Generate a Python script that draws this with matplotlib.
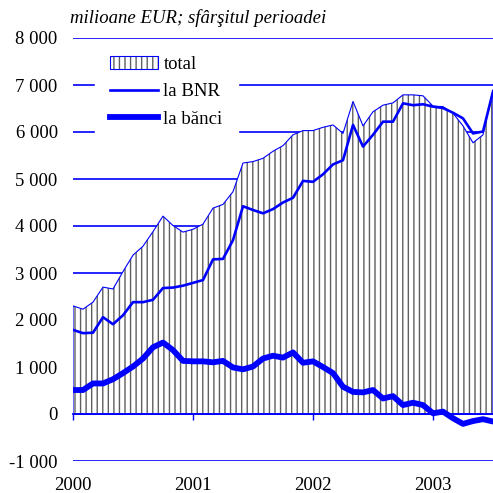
import numpy as np
import matplotlib
matplotlib.use('Agg')
import matplotlib.pyplot as plt
import matplotlib.transforms as mtransforms
from matplotlib.patches import Patch
from matplotlib.lines import Line2D
from matplotlib.legend_handler import HandlerTuple

plt.rcParams['font.family'] = ['Liberation Serif', 'DejaVu Serif']
plt.rcParams['hatch.linewidth'] = 1.0

# monthly, Jan 2000 .. Jul 2003 (mil. EUR, end of period)
total = [2300, 2230, 2380, 2700, 2660, 3030, 3380, 3570, 3880, 4210, 4010, 3870,
         3930, 4040, 4380, 4460, 4730, 5340, 5370, 5440, 5590, 5710, 5940, 6030,
         6030, 6100, 6150, 5970, 6650, 6130, 6430, 6570, 6620, 6790, 6790, 6770,
         6550, 6540, 6400, 6130, 5770, 5940, 6900]
bnr = [1790, 1720, 1730, 2060, 1910, 2100, 2380, 2380, 2430, 2680, 2690, 2730,
       2790, 2850, 3290, 3300, 3700, 4420, 4340, 4270, 4360, 4500, 4600, 4960,
       4940, 5100, 5310, 5400, 6150, 5690, 5940, 6220, 6220, 6610, 6570, 6590,
       6540, 6510, 6410, 6290, 5970, 6010, 6860]
banci = [510, 510, 650, 650, 740, 870, 1010, 1180, 1420, 1520, 1360, 1130,
         1120, 1120, 1100, 1130, 990, 950, 1010, 1180, 1240, 1200, 1310, 1090,
         1120, 1000, 870, 580, 470, 460, 510, 330, 380, 190, 240, 190,
         15, 50, -90, -210, -150, -110, -160]
years = ['2000', '2001', '2002', '2003']
year_pos = [0, 12, 24, 36]
yticks = [-1000, 0, 1000, 2000, 3000, 4000, 5000, 6000, 7000, 8000]
ytick_labels = ['-1 000', '0', '1 000', '2 000', '3 000', '4 000',
                '5 000', '6 000', '7 000', '8 000']

blue = '#0000ff'
hatch_gray = '#5f5f5f'
fs = 13.5

x = np.arange(len(total))

fig = plt.figure(figsize=(4.93, 4.93), dpi=100)
ax = fig.add_axes([73 / 493, 1 - 461 / 493, 1 - 73 / 493, 423 / 493])

ax.fill_between(x, 0, total, facecolor='white', edgecolor=hatch_gray,
                hatch='|||', linewidth=0, zorder=1)
ax.fill_between(x, 0, total, facecolor='none', edgecolor=blue,
                linewidth=0.8, zorder=1.5)
ax.plot(x, bnr, color=blue, lw=1.9, zorder=3)
ax.plot(x, banci, color=blue, lw=4.2, zorder=3, solid_capstyle='round')

ax.set_xlim(0, len(total) - 1)
ax.set_ylim(-1000, 8000)
ax.set_yticks(yticks)
ax.set_yticklabels(ytick_labels, fontsize=fs)
ax.tick_params(axis='y', length=0, pad=11)
ax.yaxis.grid(True, color=blue, lw=1.2)
ax.set_axisbelow(True)

for s in ['top', 'right', 'left']:
    ax.spines[s].set_visible(False)
ax.spines['bottom'].set_position(('data', 0))
ax.spines['bottom'].set_color(blue)
ax.spines['bottom'].set_linewidth(1.3)
ax.spines['bottom'].set_zorder(2.5)
ax.set_xticks(year_pos)
ax.set_xticklabels([])
ax.tick_params(axis='x', direction='out', length=4.5, width=1, color=blue)

trans = mtransforms.blended_transform_factory(ax.transData, ax.transAxes)
for p, lab in zip(year_pos, years):
    ax.text(p, -24 / 423, lab, transform=trans, ha='center', va='center',
            fontsize=fs)

fig.text(70 / 493, 1 - 18 / 493, 'milioane EUR; sfârşitul perioadei',
         style='italic', fontsize=fs, va='center', ha='left')

h_total = (Patch(facecolor='white', edgecolor=hatch_gray, hatch='|||', lw=0),
           Patch(facecolor='none', edgecolor=blue, lw=0.8))
h_bnr = Line2D([], [], color=blue, lw=1.9)
h_banci = Line2D([], [], color=blue, lw=4.2)
leg = ax.legend([h_total, h_bnr, h_banci], ['total', 'la BNR', 'la bănci'],
                handler_map={tuple: HandlerTuple(ndivide=1, pad=0)},
                loc='upper left', bbox_to_anchor=(22 / 420, 1 - 3 / 423),
                borderaxespad=0, fontsize=fs, frameon=True, fancybox=False,
                handlelength=2.55, handletextpad=0.3, labelspacing=0.54,
                borderpad=0.8)
frame = leg.get_frame()
frame.set_facecolor('white')
frame.set_edgecolor('white')
frame.set_alpha(1)
leg.set_zorder(5)

fig.savefig('out.png', dpi=100)
